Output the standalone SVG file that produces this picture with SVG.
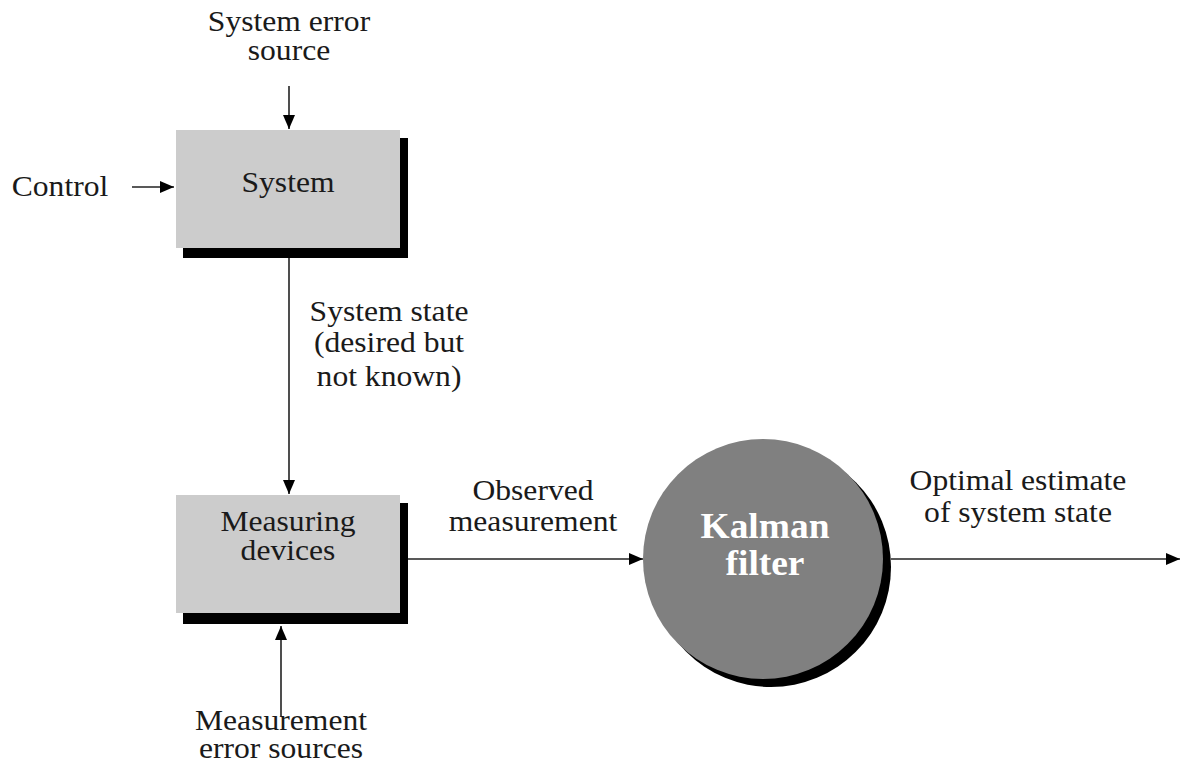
<svg xmlns="http://www.w3.org/2000/svg" width="1180" height="764" viewBox="0 0 1180 764">
<defs>
<style>
.t{font-family:"Liberation Serif","Times New Roman",serif;font-size:29px;fill:#1a1a1a;text-anchor:middle}
.k{font-family:"Liberation Serif","Times New Roman",serif;font-size:36px;font-weight:bold;fill:#ffffff;text-anchor:middle}
.ln{stroke:#222;stroke-width:1.6;fill:none;marker-end:url(#ah)}
.box{fill:#cccccc}
.sh{fill:#000}
</style>
<marker id="ah" viewBox="0 0 14 12" refX="14" refY="6" markerWidth="14" markerHeight="12" markerUnits="userSpaceOnUse" orient="auto">
<path d="M0,0 L14,6 L0,12 Z" fill="#000"/>
</marker>
</defs>
<rect width="1180" height="764" fill="#fff"/>
<g id="connectors">
<line class="ln" x1="289" y1="86" x2="289" y2="129"/>
<line class="ln" x1="132" y1="187" x2="174" y2="187"/>
<line class="ln" x1="289" y1="258" x2="289" y2="494"/>
<line class="ln" x1="408" y1="559" x2="643" y2="559"/>
<line class="ln" x1="891" y1="559" x2="1180" y2="559"/>
<line class="ln" x1="281" y1="716" x2="281" y2="626"/>
</g>
<g id="system">
<rect class="sh" x="183" y="138" width="225" height="120"/>
<rect class="box" x="176" y="130" width="224" height="118"/>
<text class="t" transform="matrix(1.09 0 0 1 288 192)">System</text>
</g>
<g id="measuring">
<rect class="sh" x="183" y="503" width="225" height="121"/>
<rect class="box" x="176" y="495" width="224" height="118"/>
<text class="t" transform="matrix(1.09 0 0 1 288 531)">Measuring</text>
<text class="t" transform="matrix(1.09 0 0 1 288 560)">devices</text>
</g>
<g id="kalman">
<circle cx="771" cy="567" r="120" fill="#000"/>
<circle cx="763" cy="559" r="120" fill="#808080"/>
<text class="k" transform="matrix(1.04 0 0 1 765 538)">Kalman</text>
<text class="k" transform="matrix(1.04 0 0 1 765 575)">filter</text>
</g>
<g id="labels">
<text class="t" transform="matrix(1.09 0 0 1 289 31)">System error</text>
<text class="t" transform="matrix(1.09 0 0 1 289 60)">source</text>
<text class="t" transform="matrix(1.09 0 0 1 60 196)">Control</text>
<text class="t" transform="matrix(1.09 0 0 1 389 321)">System state</text>
<text class="t" transform="matrix(1.09 0 0 1 389 352)">(desired but</text>
<text class="t" transform="matrix(1.09 0 0 1 389 386)">not known)</text>
<text class="t" transform="matrix(1.09 0 0 1 533 500)">Observed</text>
<text class="t" transform="matrix(1.09 0 0 1 533 531)">measurement</text>
<text class="t" transform="matrix(1.09 0 0 1 1018 490)">Optimal estimate</text>
<text class="t" transform="matrix(1.09 0 0 1 1018 522)">of system state</text>
<text class="t" transform="matrix(1.09 0 0 1 281 730)">Measurement</text>
<text class="t" transform="matrix(1.09 0 0 1 281 758)">error sources</text>
</g>
</svg>
